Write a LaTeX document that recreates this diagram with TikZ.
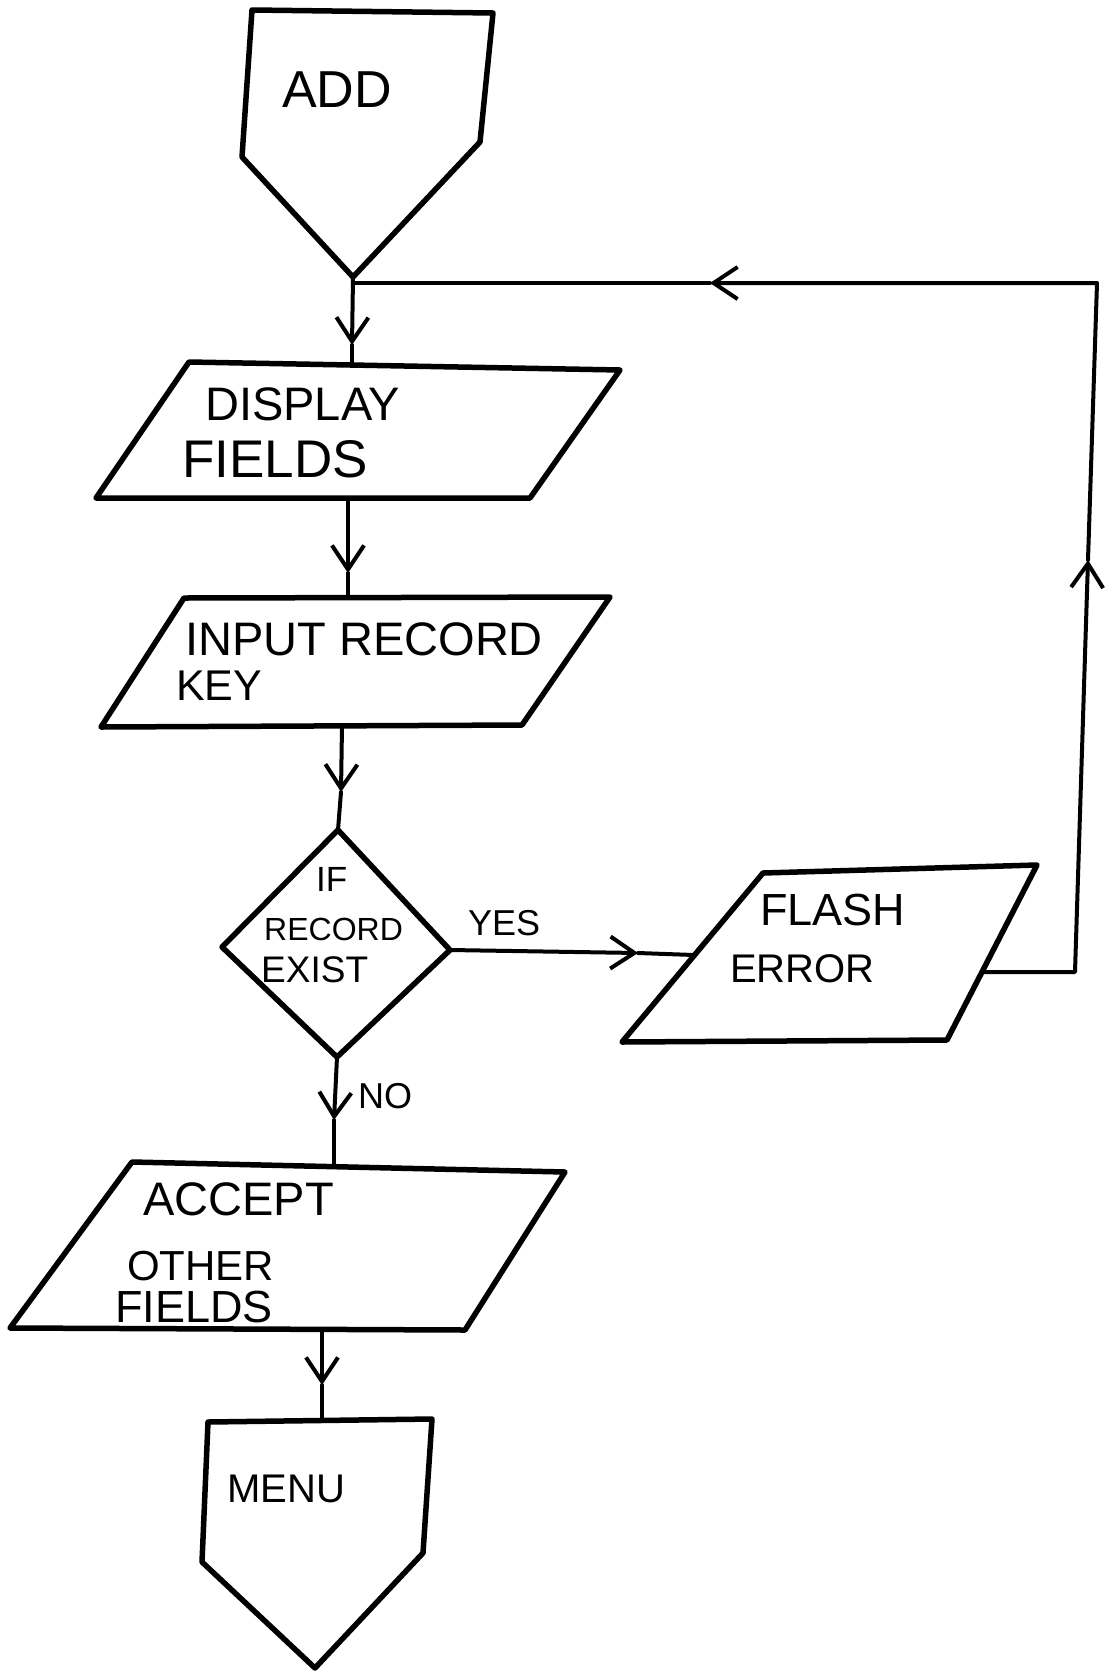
\documentclass[tikz,border=0pt]{standalone}
\usepackage{fontspec}
\setmainfont{Liberation Sans}
\usetikzlibrary{arrows.meta}
\newcommand\myfs[1]{\fontsize{#1}{#1}\selectfont}
\tikzset{
  boxline/.style={line width=5.5pt, line join=round, line cap=round},
  conn/.style={line width=4pt, line cap=round, line join=round},
  tipline/.style={conn, -{Straight Barb[length=24pt, width=32pt, line width=4pt]}},
  lbl/.style={anchor=base west, inner sep=0pt},
}
\begin{document}
\begin{tikzpicture}[x=1pt,y=-1pt]
\useasboundingbox (0,0) rectangle (1114,1674);
% ---- ADD (off-page connector)
\coordinate (a1) at (252,10);
\coordinate (a2) at (493,13);
\coordinate (a3) at (480,142);
\coordinate (a4) at (353,277);
\coordinate (a5) at (242,157);
\draw[boxline] (a1) -- (a2) -- (a3) -- (a4) -- (a5) -- cycle;
\node[lbl, font=\myfs{52}] (addt) at (282,107) {ADD};
% ---- DISPLAY FIELDS
\coordinate (d1) at (189,362);
\coordinate (d2) at (620,370);
\coordinate (d3) at (530,498);
\coordinate (d4) at (96,498);
\draw[boxline] (d1) -- (d2) -- (d3) -- (d4) -- cycle;
\node[lbl, font=\myfs{47}] (dt1) at (205,420) {DISPLAY};
\node[lbl, font=\myfs{53}] (dt2) at (182,477) {FIELDS};
% ---- INPUT RECORD KEY
\coordinate (i1) at (184,598);
\coordinate (i2) at (610,597);
\coordinate (i3) at (522,725);
\coordinate (i4) at (101,727);
\draw[boxline] (i1) -- (i2) -- (i3) -- (i4) -- cycle;
\node[lbl, font=\myfs{47}] (it1) at (185,655) {INPUT RECORD};
\node[lbl, font=\myfs{43}] (it2) at (176,700) {KEY};
% ---- decision
\coordinate (q1) at (338,830);
\coordinate (q2) at (450,950);
\coordinate (q3) at (337,1057);
\coordinate (q4) at (222,947);
\draw[boxline] (q1) -- (q2) -- (q3) -- (q4) -- cycle;
\node[lbl, font=\myfs{35}] (qt1) at (316,891) {IF};
\node[lbl, font=\myfs{32}] (qt2) at (264,940) {RECORD};
\node[lbl, font=\myfs{37}] (qt3) at (261,982) {EXIST};
% ---- FLASH ERROR
\coordinate (f1) at (763,873);
\coordinate (f2) at (1037,865);
\coordinate (f3) at (947,1040);
\coordinate (f4) at (622,1042);
\draw[boxline] (f1) -- (f2) -- (f3) -- (f4) -- cycle;
\node[lbl, font=\myfs{45}] (ft1) at (760,925) {FLASH};
\node[lbl, font=\myfs{40}] (ft2) at (730,982) {ERROR};
% ---- ACCEPT OTHER FIELDS
\coordinate (c1) at (132,1162);
\coordinate (c2) at (565,1172);
\coordinate (c3) at (465,1330);
\coordinate (c4) at (10,1328);
\draw[boxline] (c1) -- (c2) -- (c3) -- (c4) -- cycle;
\node[lbl, font=\myfs{47}] (ct1) at (143,1215) {ACCEPT};
\node[lbl, font=\myfs{42}] (ct2) at (127,1280) {OTHER};
\node[lbl, font=\myfs{45}] (ct3) at (115,1322) {FIELDS};
% ---- MENU (off-page connector)
\coordinate (m1) at (208,1422);
\coordinate (m2) at (432,1419);
\coordinate (m3) at (423,1553);
\coordinate (m4) at (315,1668);
\coordinate (m5) at (202,1562);
\draw[boxline] (m1) -- (m2) -- (m3) -- (m4) -- (m5) -- cycle;
\node[lbl, font=\myfs{40}] (mt) at (227,1502) {MENU};
% ---- connector points
\coordinate (j) at (353,283);
\coordinate (t1) at (352,345);
\coordinate (dtop) at (352,365);
\coordinate (dbot) at (348,498);
\coordinate (t2) at (348,573);
\coordinate (itop) at (348,597);
\coordinate (ibot) at (342,726);
\coordinate (t3) at (341,792);
\coordinate (t4) at (638,953);
\coordinate (fin) at (694,955);
\coordinate (fo) at (982,972);
\coordinate (lb) at (1075,972);
\coordinate (tup) at (1088,560);
\coordinate (lt) at (1097,283);
\coordinate (tleft) at (710,283);
\coordinate (t5) at (334,1120);
\coordinate (ctop) at (334,1167);
\coordinate (cbot) at (322,1330);
\coordinate (t6) at (322,1385);
\coordinate (mtop) at (322,1420);
% ---- connectors
\draw[tipline] (a4) -- (t1);
\draw[conn] (t1) -- (dtop);
\draw[tipline] (dbot) -- (t2);
\draw[conn] (t2) -- (itop);
\draw[tipline] (ibot) -- (t3);
\draw[conn] (t3) -- (q1);
\draw[tipline] (q2) -- (t4);
\draw[conn] (t4) -- (fin);
\draw[tipline] (fo) -- (lb) -- (tup);
\draw[tipline] (tup) -- (lt) -- (tleft);
\draw[conn] (tleft) -- (j);
\draw[tipline] (q3) -- (t5);
\draw[conn] (t5) -- (ctop);
\node[lbl, font=\myfs{36}] (yes) at (468,935) {YES};
\node[lbl, font=\myfs{36}] (no) at (358,1108) {NO};
\draw[tipline] (cbot) -- (t6);
\draw[conn] (t6) -- (mtop);
\end{tikzpicture}
\end{document}
